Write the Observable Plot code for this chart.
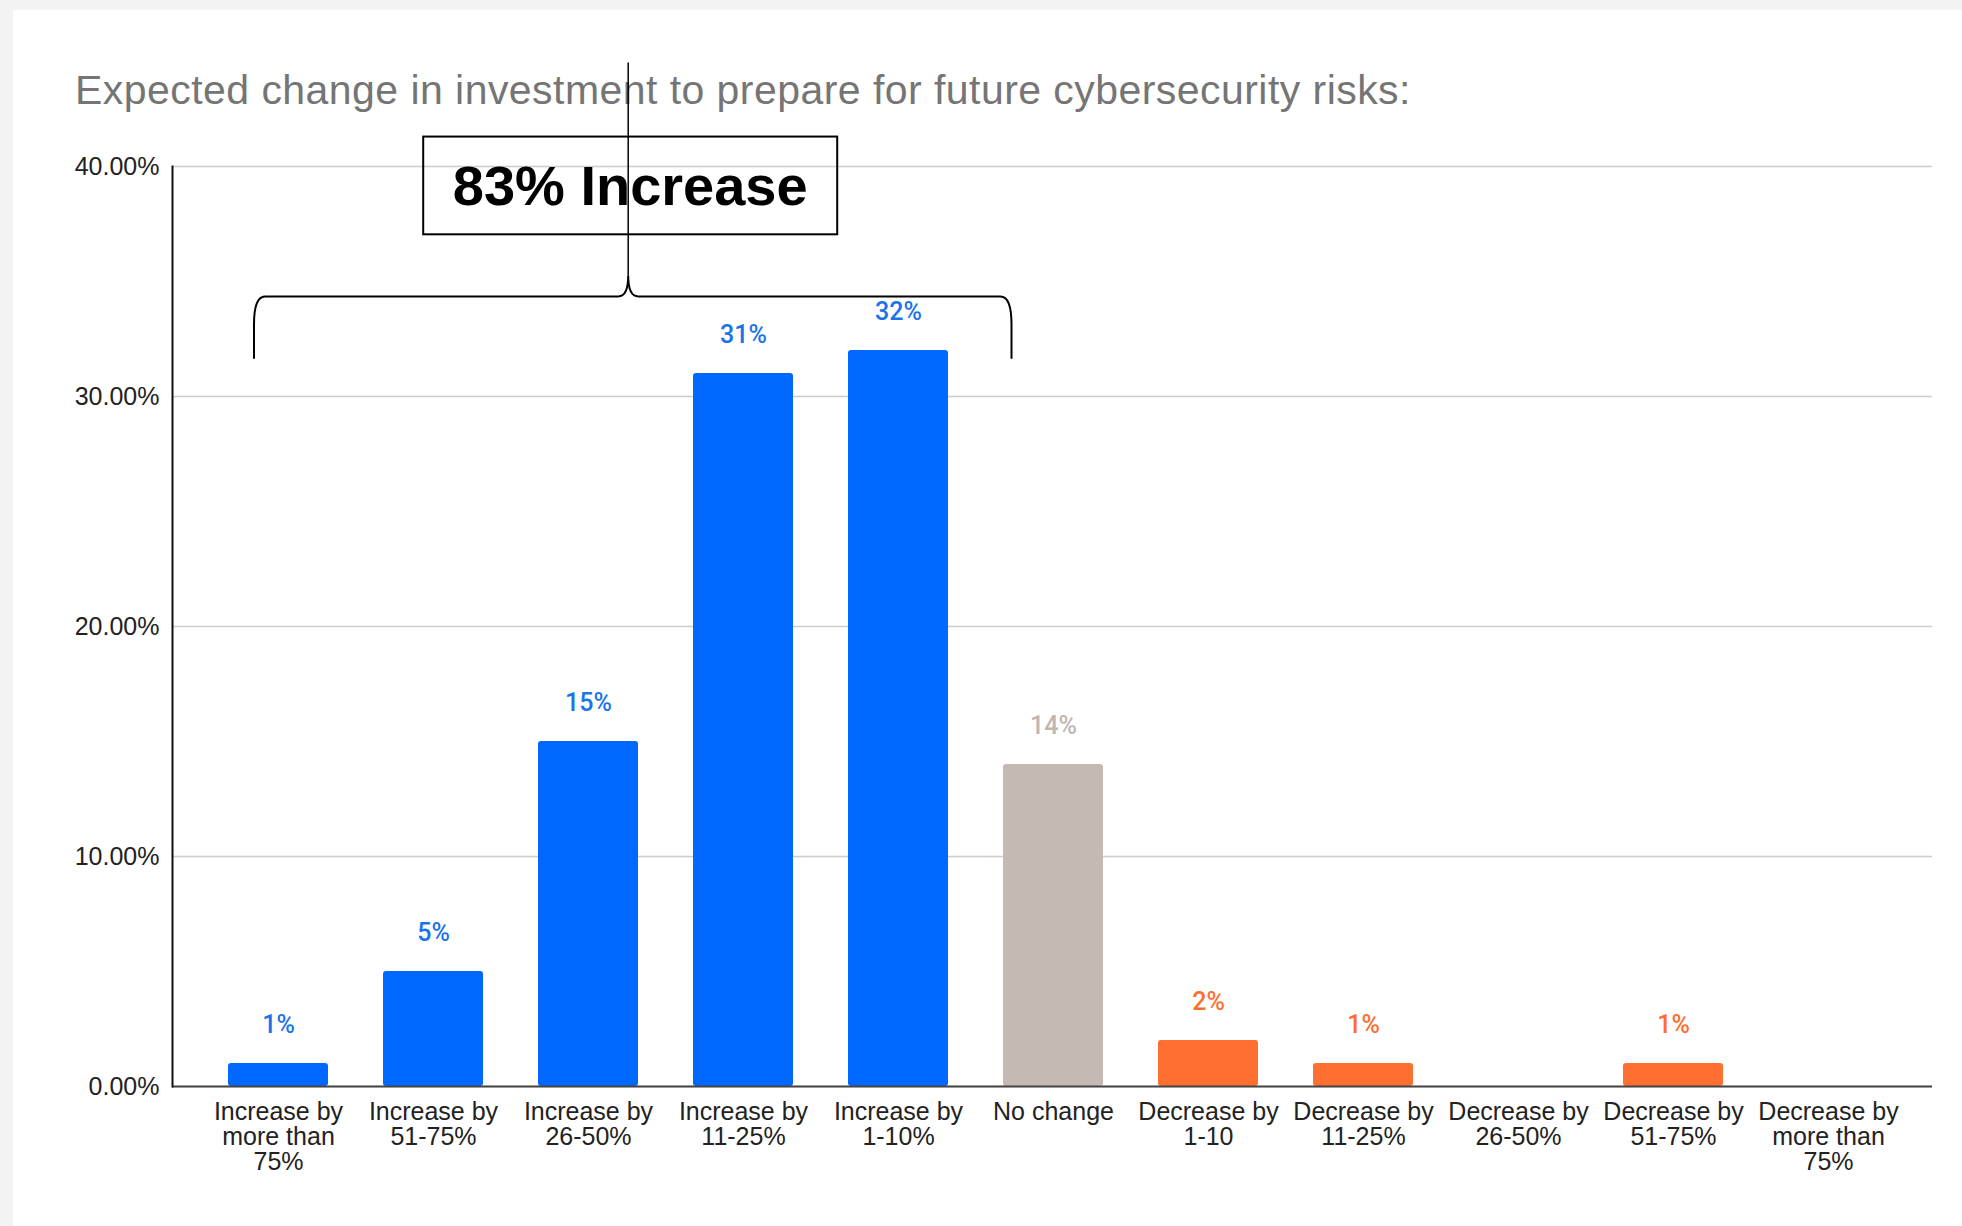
<!DOCTYPE html>
<html>
<head>
<meta charset="utf-8">
<script src="https://cdn.jsdelivr.net/npm/d3@7"></script>
<script src="https://cdn.jsdelivr.net/npm/@observablehq/plot@0.6"></script>
<style>
  html, body { margin: 0; padding: 0; background: #f3f3f3; width: 1962px; height: 1226px; overflow: hidden; }
  #panel { position: absolute; left: 13px; top: 10px; width: 1949px; height: 1216px; background: #ffffff; }
  #title { position: absolute; left: 62px; top: 60px; font-family: "Liberation Sans", Arial, sans-serif; font-size: 41px; line-height: 41px; letter-spacing: 0.45px; color: #757575; white-space: nowrap; }
  #chart { position: absolute; left: 0; top: 110px; }
</style>
</head>
<body>
<div id="panel">
  <div id="title">Expected change in investment to prepare for future cybersecurity risks:</div>
  <div id="chart"></div>
</div>
<script>
// ---- Data ----
const categories = [
  "Increase by more than 75%", "Increase by 51-75%", "Increase by 26-50%",
  "Increase by 11-25%", "Increase by 1-10%", "No change",
  "Decrease by 1-10", "Decrease by 11-25%", "Decrease by 26-50%",
  "Decrease by 51-75%", "Decrease by more than 75%"
];
const values = [1, 5, 15, 31, 32, 14, 2, 1, 0, 1, 0];
const groups = [
  "Increase", "Increase", "Increase", "Increase", "Increase", "No change",
  "Decrease", "Decrease", "Decrease", "Decrease", "Decrease"
];
const tickLabels = [
  "Increase by\nmore than\n75%", "Increase by\n51-75%", "Increase by\n26-50%",
  "Increase by\n11-25%", "Increase by\n1-10%", "No change",
  "Decrease by\n1-10", "Decrease by\n11-25%", "Decrease by\n26-50%",
  "Decrease by\n51-75%", "Decrease by\nmore than\n75%"
];
const yTicks = [0, 10, 20, 30, 40];
const annotationText = "83% Increase";
const bracketFrom = "Increase by more than 75%";
const bracketTo = "Increase by 1-10%";

// ---- Styles ----
const barColors = { "Increase": "#0068ff", "No change": "#c4bab3", "Decrease": "#ff6f31" };
const labelColors = { "Increase": "#1a73e8", "No change": "#bdb6b1", "Decrease": "#ff6d2f" };

const data = categories.map((c, i) => ({ cat: c, value: values[i], group: groups[i] }));
const groupNames = ["Increase", "No change", "Decrease"];

const W = 1949, H = 1106;
const plot = Plot.plot({
  width: W,
  height: H,
  marginLeft: 159,
  marginRight: 30,
  marginTop: 46,
  marginBottom: 140,
  style: {
    fontFamily: "'Liberation Sans', Arial, sans-serif",
    fontSize: "25px",
    color: "#222",
    background: "transparent",
    overflow: "visible"
  },
  x: { domain: categories, paddingInner: 0.355, paddingOuter: 0.1775, insetLeft: 28, insetRight: 27, label: null },
  y: { domain: [0, 40], label: null },
  marks: [
    Plot.gridY(yTicks, { stroke: "#cccccc", strokeOpacity: 1, strokeWidth: 1.5 }),
    Plot.axisY(yTicks, { tickSize: 0, tickPadding: 13, tickFormat: d => d.toFixed(2) + "%", fontSize: 25, fill: "#222", label: null }),
    Plot.axisX({ tickSize: 0, tickPadding: 16, tickFormat: d => tickLabels[categories.indexOf(d)], fontSize: 25, lineHeight: 1.0, fill: "#222", label: null }),
    ...groupNames.map(g => Plot.barY(data.filter(d => d.group === g && d.value > 0), {
      x: "cat", y: "value", fill: barColors[g], rx: 3
    })),
    ...groupNames.map(g => Plot.text(data.filter(d => d.group === g && d.value > 0), {
      x: "cat", y: "value", text: d => d.value + "%", dy: -39,
      fill: labelColors[g], fontFamily: "Roboto, sans-serif", fontSize: 25, fontWeight: 500
    })),
    Plot.ruleY([0], { stroke: "#444", strokeWidth: 2 }),
    Plot.frame({ anchor: "left", stroke: "#111", strokeWidth: 2 })
  ]
});
document.getElementById("chart").appendChild(plot);

// ---- Annotation (positioned through the plot's scales) ----
const xs = plot.scale("x");
const ys = plot.scale("y");
const xApply = xs.apply ? xs.apply : d3.scaleBand().domain(categories).range([159 + 28, W - 30 - 27]).paddingInner(0.355).paddingOuter(0.1775);
const yApply = ys.apply ? ys.apply : d3.scaleLinear().domain([0, 40]).range([H - 140, 46]);
const bw = xs.bandwidth != null ? xs.bandwidth : 100;

const L = xApply(bracketFrom) + 26;        // left end of brace
const R = xApply(bracketTo) + bw + 63.5;   // right end of brace
const C = L + 0.494 * (R - L);             // cusp
const yH = yApply(34.33), yEnd = yApply(31.62), yTip = yApply(35.24);
const boxTop = yApply(41.28), boxBot = yApply(37.03), lineTop = yApply(44.5);
const boxL = C - 205, boxR = C + 209;

const g = d3.select(plot).append("g").attr("fill", "none").attr("stroke", "#000");
g.append("path")
  .attr("stroke-width", 2)
  .attr("d", `M${L},${yEnd} L${L},${yH + 28} Q${L},${yH} ${L + 11},${yH} L${C - 10},${yH} Q${C},${yH} ${C},${yTip}` +
             ` M${C},${yTip} Q${C},${yH} ${C + 10},${yH} L${R - 11},${yH} Q${R},${yH} ${R},${yH + 28} L${R},${yEnd}`);
g.append("rect")
  .attr("x", boxL).attr("y", boxTop).attr("width", boxR - boxL).attr("height", boxBot - boxTop)
  .attr("stroke-width", 2).attr("fill", "none");
g.append("text")
  .attr("x", (boxL + boxR) / 2).attr("y", (boxTop + boxBot) / 2)
  .attr("stroke", "none").attr("fill", "#000")
  .attr("text-anchor", "middle").attr("dominant-baseline", "central")
  .attr("font-family", "'Liberation Sans', Arial, sans-serif").attr("font-weight", "bold").attr("font-size", 56)
  .text(annotationText);
g.append("line")
  .attr("x1", C).attr("x2", C).attr("y1", lineTop).attr("y2", yTip)
  .attr("stroke-width", 1.5);
</script>
</body>
</html>
